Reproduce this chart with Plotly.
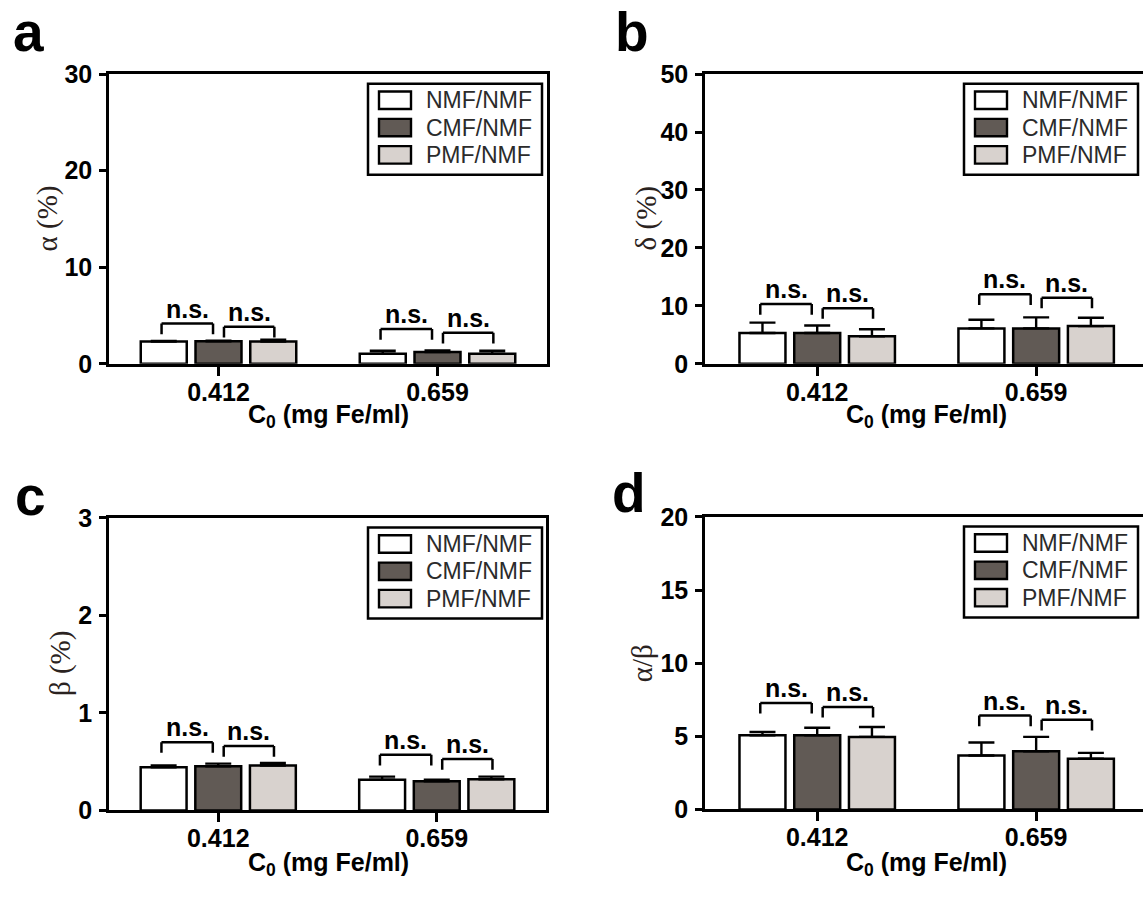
import plotly.graph_objects as go

W, H = 1143, 900

categories = ["0.412", "0.659"]
groups = ["NMF/NMF", "CMF/NMF", "PMF/NMF"]
group_colors = ["#ffffff", "#615a55", "#d8d2ce"]

# panel a : alpha (%)
alpha_nmf = [2.30, 1.05]
alpha_nmf_err = [0.05, 0.30]
alpha_cmf = [2.33, 1.22]
alpha_cmf_err = [0.07, 0.15]
alpha_pmf = [2.30, 1.05]
alpha_pmf_err = [0.20, 0.30]
alpha_brackets = [[4.17, 3.83], [3.60, 3.20]]

# panel b : delta (%)
delta_nmf = [5.3, 6.1]
delta_nmf_err = [1.8, 1.5]
delta_cmf = [5.3, 6.1]
delta_cmf_err = [1.3, 1.9]
delta_pmf = [4.75, 6.5]
delta_pmf_err = [1.2, 1.45]
delta_brackets = [[10.3, 9.6], [12.0, 11.4]]

# panel c : beta (%)
beta_nmf = [0.443, 0.314]
beta_nmf_err = [0.017, 0.033]
beta_cmf = [0.453, 0.298]
beta_cmf_err = [0.027, 0.016]
beta_pmf = [0.460, 0.320]
beta_pmf_err = [0.026, 0.027]
beta_brackets = [[0.70, 0.66], [0.57, 0.526]]

# panel d : alpha/beta
ratio_nmf = [5.07, 3.69]
ratio_nmf_err = [0.22, 0.89]
ratio_cmf = [5.07, 3.98]
ratio_cmf_err = [0.51, 0.98]
ratio_pmf = [4.96, 3.47]
ratio_pmf_err = [0.68, 0.40]
ratio_brackets = [[7.28, 7.01], [6.42, 6.13]]

sig_label = "n.s."


def PX(p):
    return p / W


def PY(p):
    return 1 - p / H


panels = [
    dict(letter="a", ytitle="α (%)", ymax=30, dtick=10,
         series=[(alpha_nmf, alpha_nmf_err), (alpha_cmf, alpha_cmf_err), (alpha_pmf, alpha_pmf_err)],
         brackets=alpha_brackets,
         left=109, right=547, top=62, bottom=361, xr=[-0.5, 1.5], mirror_y=True,
         letter_pos=(11, 19), ytitle_pos=(47, 211), xtitle_pos=(328, 415)),
    dict(letter="b", ytitle="δ (%)", ymax=50, dtick=10,
         series=[(delta_nmf, delta_nmf_err), (delta_cmf, delta_cmf_err), (delta_pmf, delta_pmf_err)],
         brackets=delta_brackets,
         left=705, right=1143, top=62, bottom=361, xr=[-0.5125, 1.488], mirror_y=False,
         letter_pos=(613, 19), ytitle_pos=(646, 211), xtitle_pos=(926, 415)),
    dict(letter="c", ytitle="β (%)", ymax=3, dtick=1,
         series=[(beta_nmf, beta_nmf_err), (beta_cmf, beta_cmf_err), (beta_pmf, beta_pmf_err)],
         brackets=beta_brackets,
         left=109, right=546, top=520, bottom=822, xr=[-0.5, 1.5], mirror_y=True,
         letter_pos=(13, 497), ytitle_pos=(60, 671), xtitle_pos=(328, 877)),
    dict(letter="d", ytitle="α/β", ymax=20, dtick=5,
         series=[(ratio_nmf, ratio_nmf_err), (ratio_cmf, ratio_cmf_err), (ratio_pmf, ratio_pmf_err)],
         brackets=ratio_brackets,
         left=705, right=1143, top=519, bottom=821, xr=[-0.5125, 1.488], mirror_y=False,
         letter_pos=(610, 494), ytitle_pos=(642, 670), xtitle_pos=(926, 877)),
]

fig = go.Figure()
shapes = []
annotations = []
xpos = list(range(len(categories)))
BOLD = dict(family="Liberation Sans, Arial, sans-serif", size=25, color="black", weight="bold")

for i, p in enumerate(panels):
    n = "" if i == 0 else str(i + 1)
    xa, ya = "x" + n, "y" + n
    for g, (vals, errs), col in zip(groups, p["series"], group_colors):
        fig.add_trace(go.Bar(
            x=xpos, y=vals, name=g, xaxis=xa, yaxis=ya, showlegend=False,
            marker=dict(color=col, line=dict(color="black", width=2.5)),
            error_y=dict(type="data", array=errs, arrayminus=[0] * len(errs), symmetric=False,
                         color="black", thickness=2.4, width=13),
        ))
    common_line = dict(showline=True, linecolor="black", linewidth=2.5, showgrid=False, zeroline=False)
    fig.layout["xaxis" + n] = dict(
        domain=[PX(p["left"]), PX(p["right"])], anchor=ya, range=p["xr"],
        tickvals=xpos, ticktext=categories, ticks="outside", ticklen=9, tickwidth=2.5,
        tickcolor="black", tickfont=BOLD, mirror=True, ticklabelstandoff=-5, **common_line)
    fig.layout["yaxis" + n] = dict(
        domain=[PY(p["bottom"]), PY(p["top"])], anchor=xa, range=[0, p["ymax"]],
        tick0=0, dtick=p["dtick"], ticks="outside", ticklen=7, tickwidth=2.5, tickcolor="black",
        tickfont=BOLD, mirror=p["mirror_y"], ticklabelstandoff=2, **common_line)

    # significance brackets
    plot_h = p["bottom"] - p["top"]
    leg = 11 * p["ymax"] / plot_h
    for ci, (b1, b2) in enumerate(p["brackets"]):
        for (x0, x1, lv) in [(ci - 0.26, ci - 0.025, b1), (ci + 0.025, ci + 0.255, b2)]:
            for (ax0, ay0, ax1, ay1) in [(x0, lv - leg, x0, lv), (x0, lv, x1, lv), (x1, lv, x1, lv - leg)]:
                shapes.append(dict(type="line", xref=xa, yref=ya, x0=ax0, y0=ay0, x1=ax1, y1=ay1,
                                   line=dict(color="black", width=2.5)))
            annotations.append(dict(text=sig_label, xref=xa, yref=ya, x=(x0 + x1) / 2, y=lv,
                                    yshift=15, showarrow=False, xanchor="center", yanchor="middle",
                                    font=BOLD))

    # legend box (manual)
    L, T = p["left"], p["top"]
    shapes.append(dict(type="rect", xref="paper", yref="paper",
                       x0=PX(L + 259), x1=PX(min(L + 433, W - 3)), y0=PY(T + 104), y1=PY(T + 10),
                       line=dict(color="black", width=2.5), fillcolor="white"))
    for k, (g, col) in enumerate(zip(groups, group_colors)):
        cy = T + 27 + k * 28.2
        shapes.append(dict(type="rect", xref="paper", yref="paper",
                           x0=PX(L + 270), x1=PX(L + 302), y0=PY(cy + 9), y1=PY(cy - 9),
                           line=dict(color="black", width=2.4), fillcolor=col))
        annotations.append(dict(text=g, xref="paper", yref="paper", x=PX(L + 315), y=PY(cy),
                                xanchor="left", yanchor="middle", showarrow=False,
                                font=dict(family="Liberation Sans, Arial, sans-serif", size=23,
                                          color="#2b2b2b")))

    # panel letter
    lx, ly = p["letter_pos"]
    annotations.append(dict(text=p["letter"], xref="paper", yref="paper", x=PX(lx), y=PY(ly),
                            xanchor="left", yanchor="middle", showarrow=False,
                            font=dict(family="Liberation Sans, Arial, sans-serif", size=55,
                                      color="black", weight="bold")))
    # y title
    tx, ty = p["ytitle_pos"]
    annotations.append(dict(text=p["ytitle"], xref="paper", yref="paper", x=PX(tx), y=PY(ty),
                            xanchor="center", yanchor="middle", showarrow=False, textangle=-90,
                            font=dict(family="Liberation Serif, Times New Roman, serif", size=29,
                                      color="#2a2220")))
    # x title
    qx, qy = p["xtitle_pos"]
    annotations.append(dict(text="C<sub>0</sub> (mg Fe/ml)", xref="paper", yref="paper",
                            x=PX(qx), y=PY(qy), xanchor="center", yanchor="middle", showarrow=False,
                            font=BOLD))

fig.update_layout(
    width=W, height=H, margin=dict(l=0, r=0, t=0, b=0),
    paper_bgcolor="white", plot_bgcolor="white",
    barmode="group", bargap=0.25, bargroupgap=0.16,
    shapes=shapes, annotations=annotations, showlegend=False,
)

fig.write_html("out.html", config={"displayModeBar": False},
               post_script="document.body.style.margin='0px';document.body.style.overflow='hidden';")
